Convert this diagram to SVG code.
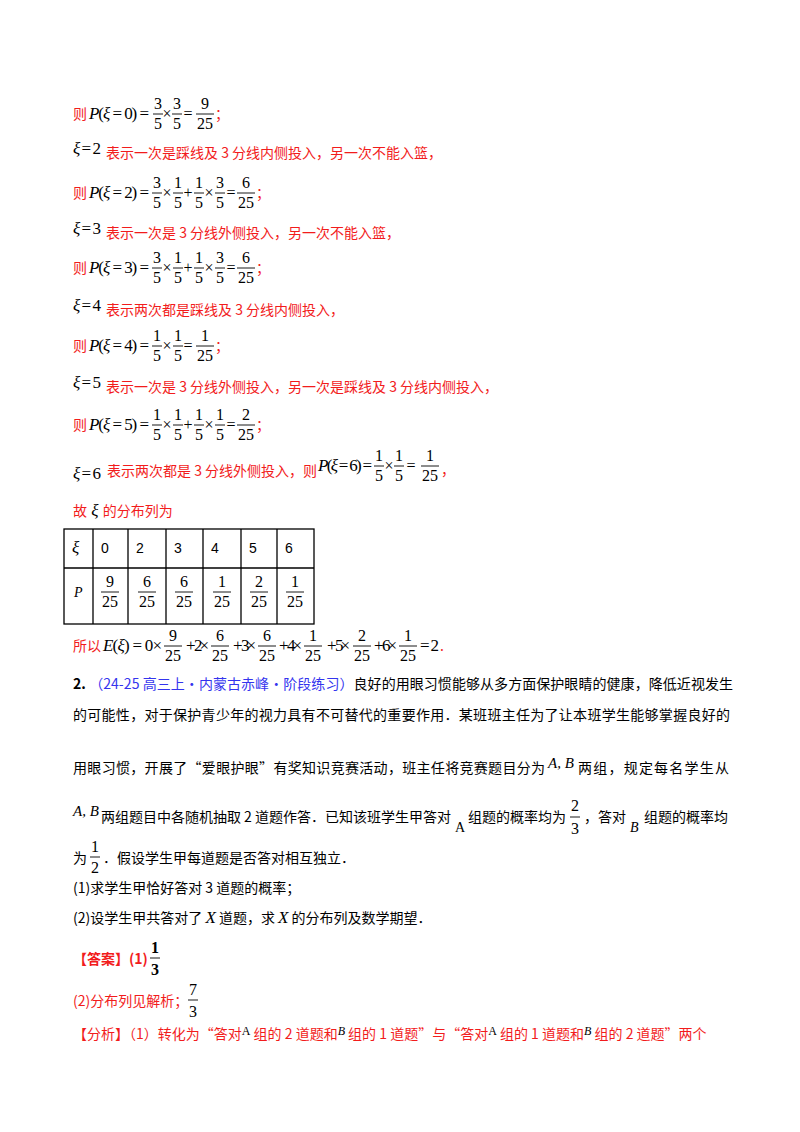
<svg xmlns="http://www.w3.org/2000/svg" width="800" height="1132" viewBox="0 0 800 1132">
<style>
.c{font-family:"Noto Sans CJK SC","Liberation Sans",sans-serif;font-size:14px;fill:#000}
.r{fill:#f21c1c}
.b{fill:#3434ee}
.m{font-family:"Liberation Serif",serif;font-size:17px;fill:#000}
.i{font-style:italic}
.f{font-family:"Liberation Serif",serif;font-size:16px;fill:#000;text-anchor:middle}
.o{font-family:"Liberation Serif",serif;font-size:16px;fill:#000;text-anchor:middle}
.bar{stroke:#000;stroke-width:0.9}
.t{font-family:"Liberation Sans",sans-serif;font-size:14px;fill:#000}
.grid{stroke:#000;stroke-width:1.3;fill:none}
</style>
<rect width="800" height="1132" fill="#fff"/>

<!-- row1 -->
<text class="c r" x="73" y="119">则</text>
<text class="m" x="89" y="119" textLength="60" lengthAdjust="spacing"><tspan class="i">P</tspan>(<tspan class="i">ξ</tspan> = 0) =</text>
<text class="f" x="158" y="109">3</text><line class="bar" x1="153" y1="114" x2="163" y2="114"/><text class="f" x="158" y="129">5</text>
<text class="o" x="167" y="119">×</text>
<text class="f" x="177" y="109">3</text><line class="bar" x1="172" y1="114" x2="182" y2="114"/><text class="f" x="177" y="129">5</text>
<text class="o" x="188" y="119">=</text>
<text class="f" x="205" y="109">9</text><line class="bar" x1="196" y1="114" x2="214" y2="114"/><text class="f" x="205" y="129">25</text>
<text class="c r" x="215" y="119">；</text>

<!-- row2 -->
<text class="m" x="73" y="154" textLength="28" lengthAdjust="spacing"><tspan class="i">ξ</tspan> = 2</text>
<text class="c r" x="106" y="158">表示一次是踩线及 3 分线内侧投入，另一次不能入篮，</text>

<!-- row3 -->
<text class="c r" x="73" y="198">则</text>
<text class="m" x="89" y="198" textLength="60" lengthAdjust="spacing"><tspan class="i">P</tspan>(<tspan class="i">ξ</tspan> = 2) =</text>
<text class="f" x="157" y="188">3</text><line class="bar" x1="152" y1="193" x2="162" y2="193"/><text class="f" x="157" y="208">5</text>
<text class="o" x="167" y="198">×</text>
<text class="f" x="178" y="188">1</text><line class="bar" x1="173" y1="193" x2="183" y2="193"/><text class="f" x="178" y="208">5</text>
<text class="o" x="188" y="198">+</text>
<text class="f" x="199" y="188">1</text><line class="bar" x1="194" y1="193" x2="204" y2="193"/><text class="f" x="199" y="208">5</text>
<text class="o" x="209" y="198">×</text>
<text class="f" x="220" y="188">3</text><line class="bar" x1="215" y1="193" x2="225" y2="193"/><text class="f" x="220" y="208">5</text>
<text class="o" x="231" y="198">=</text>
<text class="f" x="246" y="188">6</text><line class="bar" x1="237" y1="193" x2="255" y2="193"/><text class="f" x="246" y="208">25</text>
<text class="c r" x="256" y="198">；</text>

<!-- row4 -->
<text class="m" x="73" y="234" textLength="28" lengthAdjust="spacing"><tspan class="i">ξ</tspan> = 3</text>
<text class="c r" x="106" y="238">表示一次是 3 分线外侧投入，另一次不能入篮，</text>

<!-- row5 -->
<text class="c r" x="73" y="273">则</text>
<text class="m" x="89" y="273" textLength="60" lengthAdjust="spacing"><tspan class="i">P</tspan>(<tspan class="i">ξ</tspan> = 3) =</text>
<text class="f" x="157" y="263">3</text><line class="bar" x1="152" y1="268" x2="162" y2="268"/><text class="f" x="157" y="283">5</text>
<text class="o" x="167" y="273">×</text>
<text class="f" x="178" y="263">1</text><line class="bar" x1="173" y1="268" x2="183" y2="268"/><text class="f" x="178" y="283">5</text>
<text class="o" x="188" y="273">+</text>
<text class="f" x="199" y="263">1</text><line class="bar" x1="194" y1="268" x2="204" y2="268"/><text class="f" x="199" y="283">5</text>
<text class="o" x="209" y="273">×</text>
<text class="f" x="220" y="263">3</text><line class="bar" x1="215" y1="268" x2="225" y2="268"/><text class="f" x="220" y="283">5</text>
<text class="o" x="231" y="273">=</text>
<text class="f" x="246" y="263">6</text><line class="bar" x1="237" y1="268" x2="255" y2="268"/><text class="f" x="246" y="283">25</text>
<text class="c r" x="256" y="273">；</text>

<!-- row6 -->
<text class="m" x="73" y="311" textLength="28" lengthAdjust="spacing"><tspan class="i">ξ</tspan> = 4</text>
<text class="c r" x="106" y="315">表示两次都是踩线及 3 分线内侧投入，</text>

<!-- row7 -->
<text class="c r" x="73" y="351">则</text>
<text class="m" x="89" y="351" textLength="60" lengthAdjust="spacing"><tspan class="i">P</tspan>(<tspan class="i">ξ</tspan> = 4) =</text>
<text class="f" x="157" y="341">1</text><line class="bar" x1="152" y1="346" x2="162" y2="346"/><text class="f" x="157" y="361">5</text>
<text class="o" x="167" y="351">×</text>
<text class="f" x="178" y="341">1</text><line class="bar" x1="173" y1="346" x2="183" y2="346"/><text class="f" x="178" y="361">5</text>
<text class="o" x="188" y="351">=</text>
<text class="f" x="205" y="341">1</text><line class="bar" x1="196" y1="346" x2="214" y2="346"/><text class="f" x="205" y="361">25</text>
<text class="c r" x="215" y="351">；</text>

<!-- row8 -->
<text class="m" x="73" y="388" textLength="28" lengthAdjust="spacing"><tspan class="i">ξ</tspan> = 5</text>
<text class="c r" x="106" y="392">表示一次是 3 分线外侧投入，另一次是踩线及 3 分线内侧投入，</text>

<!-- row9 -->
<text class="c r" x="73" y="430">则</text>
<text class="m" x="89" y="430" textLength="60" lengthAdjust="spacing"><tspan class="i">P</tspan>(<tspan class="i">ξ</tspan> = 5) =</text>
<text class="f" x="157" y="420">1</text><line class="bar" x1="152" y1="425" x2="162" y2="425"/><text class="f" x="157" y="440">5</text>
<text class="o" x="167" y="430">×</text>
<text class="f" x="178" y="420">1</text><line class="bar" x1="173" y1="425" x2="183" y2="425"/><text class="f" x="178" y="440">5</text>
<text class="o" x="188" y="430">+</text>
<text class="f" x="199" y="420">1</text><line class="bar" x1="194" y1="425" x2="204" y2="425"/><text class="f" x="199" y="440">5</text>
<text class="o" x="209" y="430">×</text>
<text class="f" x="220" y="420">1</text><line class="bar" x1="215" y1="425" x2="225" y2="425"/><text class="f" x="220" y="440">5</text>
<text class="o" x="231" y="430">=</text>
<text class="f" x="246" y="420">2</text><line class="bar" x1="237" y1="425" x2="255" y2="425"/><text class="f" x="246" y="440">25</text>
<text class="c r" x="256" y="430">；</text>

<!-- row10 -->
<text class="m" x="73" y="479" textLength="28" lengthAdjust="spacing"><tspan class="i">ξ</tspan> = 6</text>
<text class="c r" x="107" y="476">表示两次都是 3 分线外侧投入，则</text>
<text class="m" x="318" y="471" textLength="54" lengthAdjust="spacing"><tspan class="i">P</tspan>(<tspan class="i">ξ</tspan> = 6) =</text>
<text class="f" x="379" y="461">1</text><line class="bar" x1="374" y1="466" x2="384" y2="466"/><text class="f" x="379" y="481">5</text>
<text class="o" x="389" y="471">×</text>
<text class="f" x="399" y="461">1</text><line class="bar" x1="394" y1="466" x2="404" y2="466"/><text class="f" x="399" y="481">5</text>
<text class="o" x="411" y="471">=</text>
<text class="f" x="430" y="461">1</text><line class="bar" x1="421" y1="466" x2="439" y2="466"/><text class="f" x="430" y="481">25</text>
<text class="c r" x="441" y="475">，</text>

<!-- row11 -->
<text class="c r" x="73" y="516">故<tspan class="m i" style="fill:#000"> ξ </tspan>的分布列为</text>

<!-- table -->
<g id="table">
<rect class="grid" x="64" y="529" width="250" height="95"/>
<line class="grid" x1="64" y1="568" x2="314" y2="568"/>
<line class="grid" x1="93" y1="529" x2="93" y2="624"/>
<line class="grid" x1="128" y1="529" x2="128" y2="624"/>
<line class="grid" x1="166" y1="529" x2="166" y2="624"/>
<line class="grid" x1="203" y1="529" x2="203" y2="624"/>
<line class="grid" x1="241" y1="529" x2="241" y2="624"/>
<line class="grid" x1="277" y1="529" x2="277" y2="624"/>
<text class="m i" x="72" y="553">ξ</text>
<text class="t" x="101" y="553">0</text>
<text class="t" x="136" y="553">2</text>
<text class="t" x="174" y="553">3</text>
<text class="t" x="211" y="553">4</text>
<text class="t" x="249" y="553">5</text>
<text class="t" x="285" y="553">6</text>
<text class="m i" x="74" y="597" style="font-size:14px">P</text>
<text class="f" x="110" y="587">9</text><line class="bar" x1="101" y1="592" x2="119" y2="592"/><text class="f" x="110" y="607">25</text>
<text class="f" x="147" y="587">6</text><line class="bar" x1="138" y1="592" x2="156" y2="592"/><text class="f" x="147" y="607">25</text>
<text class="f" x="184" y="587">6</text><line class="bar" x1="175" y1="592" x2="193" y2="592"/><text class="f" x="184" y="607">25</text>
<text class="f" x="222" y="587">1</text><line class="bar" x1="213" y1="592" x2="231" y2="592"/><text class="f" x="222" y="607">25</text>
<text class="f" x="259" y="587">2</text><line class="bar" x1="250" y1="592" x2="268" y2="592"/><text class="f" x="259" y="607">25</text>
<text class="f" x="295" y="587">1</text><line class="bar" x1="286" y1="592" x2="304" y2="592"/><text class="f" x="295" y="607">25</text>
</g>

<!-- E line -->
<text class="c r" x="73" y="651">所以</text>
<text class="m" x="103" y="651" textLength="59" lengthAdjust="spacing"><tspan class="i">E</tspan>(<tspan class="i">ξ</tspan>) = 0×</text>
<text class="f" x="173" y="641">9</text><line class="bar" x1="164" y1="646" x2="182" y2="646"/><text class="f" x="173" y="661">25</text>
<text class="m" x="186" y="651" textLength="23" lengthAdjust="spacing">+ 2×</text>
<text class="f" x="220" y="641">6</text><line class="bar" x1="211" y1="646" x2="229" y2="646"/><text class="f" x="220" y="661">25</text>
<text class="m" x="233" y="651" textLength="23" lengthAdjust="spacing">+ 3×</text>
<text class="f" x="267" y="641">6</text><line class="bar" x1="258" y1="646" x2="276" y2="646"/><text class="f" x="267" y="661">25</text>
<text class="m" x="279" y="651" textLength="23" lengthAdjust="spacing">+ 4×</text>
<text class="f" x="313" y="641">1</text><line class="bar" x1="304" y1="646" x2="322" y2="646"/><text class="f" x="313" y="661">25</text>
<text class="m" x="327" y="651" textLength="23" lengthAdjust="spacing">+ 5×</text>
<text class="f" x="362" y="641">2</text><line class="bar" x1="353" y1="646" x2="371" y2="646"/><text class="f" x="362" y="661">25</text>
<text class="m" x="374" y="651" textLength="23" lengthAdjust="spacing">+ 6×</text>
<text class="f" x="408" y="641">1</text><line class="bar" x1="399" y1="646" x2="417" y2="646"/><text class="f" x="408" y="661">25</text>
<text class="m" x="420" y="651" textLength="19" lengthAdjust="spacing">= 2</text>
<text class="c r" x="440" y="651">.</text>

<!-- problem 2 -->
<text class="c" x="73" y="689" textLength="660" lengthAdjust="spacing"><tspan style="font-weight:bold">2.</tspan>  <tspan class="b">（24-25 高三上·内蒙古赤峰·阶段练习）</tspan>良好的用眼习惯能够从多方面保护眼睛的健康，降低近视发生</text>
<text class="c" x="73" y="720" textLength="657" lengthAdjust="spacing">的可能性，对于保护青少年的视力具有不可替代的重要作用．某班班主任为了让本班学生能够掌握良好的</text>
<text class="c" x="73" y="773" textLength="472" lengthAdjust="spacing">用眼习惯，开展了“爱眼护眼”有奖知识竞赛活动，班主任将竞赛题目分为</text>
<text class="m i" x="548" y="768" style="font-size:15px">A, B</text>
<text class="c" x="578" y="773" textLength="151" lengthAdjust="spacing">两组，规定每名学生从</text>

<text class="m i" x="73" y="816" style="font-size:15px">A, B</text>
<text class="c" x="101" y="822" textLength="350" lengthAdjust="spacing">两组题目中各随机抽取 2 道题作答．已知该班学生甲答对</text>
<text class="m" x="455" y="832" style="font-size:14px">A</text>
<text class="c" x="468" y="822">组题的概率均为</text>
<text class="f" x="575" y="811">2</text><line class="bar" x1="570" y1="817" x2="580" y2="817"/><text class="f" x="575" y="834">3</text>
<text class="c" x="584" y="822">，答对</text>
<text class="m i" x="630" y="832" style="font-size:14px">B</text>
<text class="c" x="644" y="822">组题的概率均</text>

<text class="c" x="73" y="863">为</text>
<text class="f" x="95" y="852">1</text><line class="bar" x1="90" y1="857" x2="100" y2="857"/><text class="f" x="95" y="873">2</text>
<text class="c" x="103" y="863">．假设学生甲每道题是否答对相互独立．</text>

<text class="c" x="73" y="893">(1)求学生甲恰好答对 3 道题的概率；</text>
<text class="c" x="73" y="923">(2)设学生甲共答对了 <tspan class="m i">X</tspan> 道题，求 <tspan class="m i">X</tspan> 的分布列及数学期望．</text>

<text class="c r" x="73" y="964" style="font-weight:bold">【答案】(1)</text>
<text class="f" x="155" y="953" style="font-weight:bold">1</text><line class="bar" x1="150" y1="958" x2="160" y2="958"/><text class="f" x="155" y="975" style="font-weight:bold">3</text>

<text class="c r" x="73" y="1006">(2)分布列见解析；</text>
<text class="f" x="193" y="995">7</text><line class="bar" x1="188" y1="1000" x2="198" y2="1000"/><text class="f" x="193" y="1017">3</text>

<text class="c r" x="73" y="1039">【分析】（1）转化为“答对<tspan class="m" style="fill:#000;font-size:12px" dy="-4">A</tspan><tspan dy="4"> 组的 2 道题和</tspan><tspan class="m i" style="fill:#000;font-size:12px" dy="-4">B</tspan><tspan dy="4"> 组的 1 道题”与“答对</tspan><tspan class="m" style="fill:#000;font-size:12px" dy="-4">A</tspan><tspan dy="4"> 组的 1 道题和</tspan><tspan class="m i" style="fill:#000;font-size:12px" dy="-4">B</tspan><tspan dy="4"> 组的 2 道题”两个</tspan></text>
</svg>
